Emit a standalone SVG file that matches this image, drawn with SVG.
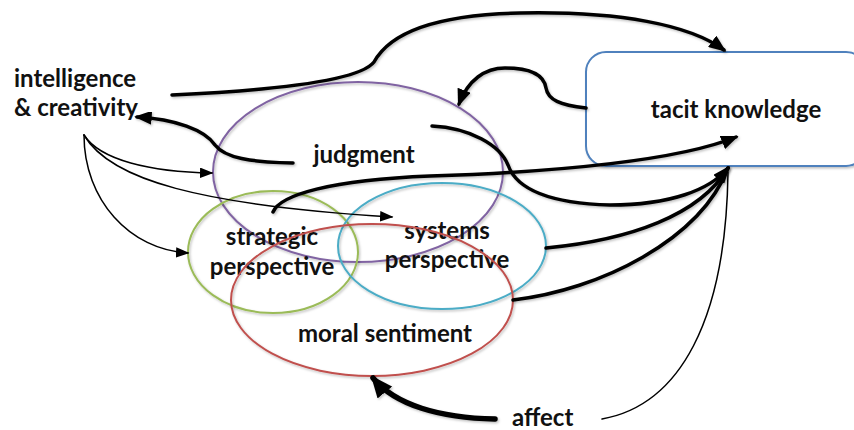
<svg xmlns="http://www.w3.org/2000/svg" width="854" height="430" viewBox="0 0 854 430">
  <style>
    .lbl { font-family: Lato, "Liberation Sans", Arial, sans-serif; font-weight: bold; font-size: 24px; fill: #111; }
    .ring { fill: none; stroke-width: 2; filter: url(#shadow); }
    .thick { fill: none; stroke: #000; stroke-width: 3.5; stroke-linecap: round; filter: url(#shadow); }
    .thin { fill: none; stroke: #000; stroke-width: 1.5; stroke-linecap: round; }
  </style>
  <defs>
    <filter id="shadow" x="-10%" y="-10%" width="130%" height="130%">
      <feDropShadow dx="1.2" dy="1.5" stdDeviation="1" flood-color="#000" flood-opacity="0.25"/>
    </filter>
    <marker id="headBig" markerWidth="5" markerHeight="4" refX="4.2" refY="2" orient="auto" markerUnits="strokeWidth">
      <path d="M0,0 L5,2 L0,4 z" fill="#000"/>
    </marker>
    <marker id="headSmall" markerWidth="9" markerHeight="7" refX="8" refY="3.5" orient="auto" markerUnits="strokeWidth">
      <path d="M0,0 L9,3.5 L0,7 z" fill="#000"/>
    </marker>
    <marker id="headAffect" markerWidth="4" markerHeight="3.4" refX="3.4" refY="1.7" orient="auto" markerUnits="strokeWidth">
      <path d="M0,0 L4,1.7 L0,3.4 z" fill="#000"/>
    </marker>
  </defs>

  <rect width="854" height="430" fill="#fff"/>

  <!-- overlapping ellipses -->
  <g id="judgment">
    <ellipse class="ring" cx="358" cy="172" rx="145" ry="90" stroke="#8064a2"/>
    <text class="lbl" x="364" y="163" text-anchor="middle">judgment</text>
  </g>
  <g id="strategic-perspective">
    <ellipse class="ring" cx="273" cy="252" rx="85" ry="61" stroke="#9bbb59"/>
    <text class="lbl" x="272" y="245" text-anchor="middle">strategic</text>
    <text class="lbl" x="272" y="275" text-anchor="middle">perspective</text>
  </g>
  <g id="systems-perspective">
    <ellipse class="ring" cx="442" cy="246" rx="104" ry="63" stroke="#4bacc6"/>
    <text class="lbl" x="447" y="239" text-anchor="middle">systems</text>
    <text class="lbl" x="447" y="268" text-anchor="middle">perspective</text>
  </g>
  <g id="moral-sentiment">
    <ellipse class="ring" cx="372" cy="300" rx="141" ry="76" stroke="#c0504d"/>
    <text class="lbl" x="385" y="342" text-anchor="middle">moral sentiment</text>
  </g>

  <g id="tacit-knowledge">
    <rect x="586" y="52" width="280" height="114" rx="20" ry="20" fill="#fff" stroke="#4f81bd" stroke-width="2" filter="url(#shadow)"/>
    <text class="lbl" x="736" y="118" text-anchor="middle">tacit knowledge</text>
  </g>

  <g id="intelligence-creativity">
    <text class="lbl" x="14" y="87">intelligence</text>
    <text class="lbl" x="14" y="116">&amp; creativity</text>
  </g>

  <g id="affect">
    <text class="lbl" x="512" y="426">affect</text>
  </g>

  <!-- connectors -->
  <g id="connectors">
    <!-- intelligence & creativity over the top to tacit knowledge -->
    <path class="thick" d="M172,95 C280,90 360,80 374,62 C386,40 420,15 520,13 C620,11 690,25 724,50" marker-end="url(#headBig)"/>
    <!-- tacit knowledge back to judgment -->
    <path class="thick" d="M586,108 C560,105 548,100 546,88 C544,75 530,68 505,68 C485,68 468,80 459,104" marker-end="url(#headBig)"/>
    <!-- judgment to intelligence & creativity -->
    <path class="thick" d="M293,163 C250,162 225,158 215,145 C205,130 175,119 137,117" marker-end="url(#headBig)"/>
    <!-- intelligence & creativity fanning out -->
    <path class="thin" d="M84,135 C100,160 150,172 212,173" marker-end="url(#headSmall)"/>
    <path class="thin" d="M84,135 C110,180 200,205 392,217" marker-end="url(#headSmall)"/>
    <path class="thin" d="M84,135 C84,200 130,250 188,253" marker-end="url(#headSmall)"/>
    <!-- strategic perspective into tacit knowledge -->
    <path class="thick" d="M273,212 C280,195 330,180 430,176 C560,172 680,160 736,137" marker-end="url(#headBig)"/>
    <!-- judgment, systems and moral sentiment converging on tacit knowledge -->
    <path class="thick" d="M432,126 C470,128 500,145 508,165 C515,185 540,203 610,205 C670,205 710,190 728,168" marker-end="url(#headBig)"/>
    <path class="thick" d="M546,248 C630,240 700,215 728,168"/>
    <path class="thick" d="M513,300 C600,290 700,240 728,168"/>
    <path class="thin" d="M602,419 C680,405 726,320 728,172"/>
    <!-- affect into moral sentiment -->
    <path class="thick" style="stroke-width:5.5" d="M495,419 C440,418 395,405 373,378" marker-end="url(#headAffect)"/>
  </g>
</svg>
